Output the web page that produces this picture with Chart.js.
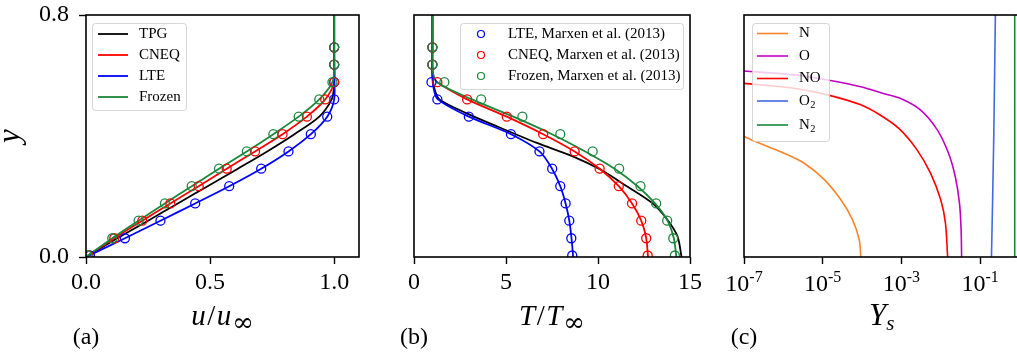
<!DOCTYPE html>
<html>
<head>
<meta charset="utf-8">
<script src="https://cdn.jsdelivr.net/npm/chart.js@4.4.0/dist/chart.umd.min.js"></script>
<style>
  html, body { margin: 0; padding: 0; background: #fff; overflow: hidden; }
  #wrap { position: relative; width: 1017px; height: 354px; overflow: hidden; }
  canvas { position: absolute; top: 0; }
</style>
</head>
<body>
<div id="wrap">
  <canvas id="chartU" width="372" height="354" style="left:0px"></canvas>
  <canvas id="chartT" width="330" height="354" style="left:372px"></canvas>
  <canvas id="chartY" width="318" height="354" style="left:702px"></canvas>
</div>
<script>
'use strict';

// ---- wall-normal stations of the Marxen et al. (2013) points ----
const yRef = [0.005, 0.062, 0.120, 0.177, 0.234, 0.292, 0.349, 0.406, 0.464, 0.521, 0.578, 0.636, 0.693];

// ---- (a) velocity profiles ----
const uRefLTE    = [0.016, 0.157, 0.300, 0.440, 0.577, 0.706, 0.816, 0.906, 0.972, 1.0, 1.0, 1.0, 1.0];
const uRefCNEQ   = [0.010, 0.114, 0.227, 0.340, 0.454, 0.567, 0.681, 0.792, 0.890, 0.964, 1.0, 1.0, 1.0];
const uRefFrozen = [0.006, 0.106, 0.212, 0.318, 0.426, 0.536, 0.648, 0.755, 0.857, 0.940, 0.993, 1.0, 1.0];

const yUTPG    = [0, 0.062, 0.120, 0.177, 0.234, 0.292, 0.349, 0.406, 0.464, 0.521, 0.560, 0.600, 0.700, 0.800];
const uTPG     = [0, 0.126, 0.250, 0.370, 0.490, 0.612, 0.730, 0.840, 0.940, 0.990, 0.999, 1.0, 1.0, 1.0];
const yUCNEQ   = [0, 0.062, 0.120, 0.177, 0.234, 0.292, 0.349, 0.406, 0.464, 0.521, 0.578, 0.650, 0.800];
const uCNEQ    = [0, 0.114, 0.227, 0.340, 0.454, 0.567, 0.681, 0.792, 0.890, 0.964, 1.0, 1.0, 1.0];
const yULTE    = [0, 0.062, 0.120, 0.177, 0.234, 0.292, 0.349, 0.406, 0.464, 0.521, 0.600, 0.700, 0.800];
const uLTE     = [0, 0.157, 0.300, 0.440, 0.577, 0.706, 0.816, 0.906, 0.972, 1.0, 1.0, 1.0, 1.0];
const yUFrozen = [0, 0.062, 0.120, 0.177, 0.234, 0.292, 0.349, 0.406, 0.464, 0.521, 0.578, 0.636, 0.700, 0.800];
const uFrozen  = [0, 0.106, 0.212, 0.318, 0.426, 0.536, 0.648, 0.755, 0.857, 0.940, 0.993, 1.0, 1.0, 1.0];

const uTicks = [0, 0.5, 1.0];
const uTickLabels = ['0.0', '0.5', '1.0'];
const yTicks = [0, 0.8];
const yTickLabels = ['0.0', '0.8'];

// ---- (b) temperature profiles ----
const tRefLTE    = [8.60, 8.55, 8.44, 8.24, 7.95, 7.51, 6.82, 5.27, 2.98, 1.27, 0.95, 1.0, 1.0];
const tRefCNEQ   = [12.70, 12.62, 12.35, 11.85, 11.13, 10.09, 8.73, 7.02, 5.04, 2.89, 1.27, 1.0, 1.0];
const tRefFrozen = [14.18, 14.09, 13.76, 13.16, 12.31, 11.15, 9.71, 7.95, 5.89, 3.65, 1.65, 1.0, 1.0];

const yTTPG    = [0, 0.068, 0.123, 0.178, 0.233, 0.289, 0.332, 0.377, 0.432, 0.475, 0.520, 0.552, 0.600, 0.700, 0.800];
const tTPG     = [14.54, 14.32, 13.77, 12.95, 11.59, 10.13, 8.66, 6.68, 4.50, 2.87, 1.40, 1.13, 1.0, 1.0, 1.0];
const yTCNEQ   = [0, 0.062, 0.120, 0.177, 0.234, 0.292, 0.349, 0.406, 0.464, 0.521, 0.578, 0.610, 0.700, 0.800];
const tCNEQ    = [12.72, 12.62, 12.35, 11.85, 11.13, 10.09, 8.73, 7.02, 5.04, 2.89, 1.27, 1.02, 1.0, 1.0];
const yTLTE    = [0, 0.062, 0.120, 0.177, 0.234, 0.292, 0.349, 0.406, 0.464, 0.521, 0.560, 0.600, 0.700, 0.800];
const tLTE     = [8.65, 8.56, 8.44, 8.24, 7.95, 7.50, 6.82, 5.27, 2.98, 1.30, 1.06, 1.0, 1.0, 1.0];
const yTFrozen = [0, 0.062, 0.120, 0.177, 0.234, 0.292, 0.349, 0.406, 0.464, 0.521, 0.578, 0.610, 0.700, 0.800];
const tFrozen  = [14.26, 14.12, 13.78, 13.10, 12.15, 10.90, 9.30, 7.50, 5.40, 3.15, 1.25, 1.03, 1.0, 1.0];

const tTicks = [0, 5, 10, 15];
const tTickLabels = ['0', '5', '10', '15'];

// ---- (c) species mass fractions ----
const yN  = [0.398, 0.370, 0.343, 0.310, 0.256, 0.189, 0.123, 0.057, 0];
const ysN = [1e-7, 3.2e-7, 1.05e-6, 3.4e-6, 1.1e-5, 2.9e-5, 5.75e-5, 8.5e-5, 9.3e-5];
const yO  = [0.615, 0.602, 0.585, 0.563, 0.542, 0.525, 0.487, 0.421, 0.343, 0.266, 0.178, 0.090, 0];
const ysO = [1e-7, 1.86e-6, 1.32e-5, 9.3e-5, 3.16e-4, 9.3e-4, 3.0e-3, 8.1e-3, 1.58e-2, 2.34e-2, 3.0e-2, 3.3e-2, 3.4e-2];
const yNO  = [0.574, 0.558, 0.536, 0.503, 0.466, 0.421, 0.354, 0.277, 0.189, 0.112, 0];
const ysNO = [1e-7, 1.86e-6, 1.32e-5, 9.3e-5, 3.16e-4, 9.3e-4, 2.5e-3, 5.5e-3, 1.0e-2, 1.32e-2, 1.5e-2];
const yO2  = [0, 0.380, 0.800];
const ysO2 = [0.195, 0.222, 0.245];
const yN2  = [0, 0.800];
const ysN2 = [0.76, 0.76];

const ysTicks = [1e-7, 1e-5, 1e-3, 1e-1];
const ysTickExp = ['-7', '-5', '-3', '-1'];

const FONT = '"Liberation Serif", "Times New Roman", serif';
const GREEN = '#1b873a';
const TICK_PX = 24;

Chart.defaults.font.family = FONT;
Chart.defaults.color = '#000';

const pts = (xs, ys) => xs.map((x, i) => ({ x, y: ys[i] }));

function profileLine(label, xs, ys, color, legend) {
  return {
    label, data: pts(xs, ys), borderColor: color, borderWidth: 1.8,
    pointRadius: 0, pointHoverRadius: 0, tension: 0.3, fill: false,
    inLegend: legend ? 'line' : null
  };
}

function refMarkers(label, xs, ys, color, legend) {
  return {
    label, data: pts(xs, ys), borderColor: color, backgroundColor: 'rgba(0,0,0,0)',
    showLine: false, pointRadius: 4.5, pointHoverRadius: 4.5, pointBorderWidth: 1.3,
    inLegend: legend ? 'marker' : null
  };
}

// first dataset in the list is painted first (underneath)
function stacked(list) {
  list.forEach((d, i) => { d.order = list.length - i; });
  return list;
}

function fixedBox(size, key) {
  return (s) => {
    s[key] = size;
    s.paddingLeft = s.paddingRight = s.paddingTop = s.paddingBottom = 0;
  };
}

const tickGrid = { display: true, drawOnChartArea: false, drawTicks: true, tickLength: 7, tickWidth: 1.4, tickColor: '#000' };

const partFont = p => `${p.it ? 'italic ' : ''}${p.size || 29}px ${p.family || FONT}`;

function drawRich(ctx, parts, cx, baseline) {
  const widths = parts.map(p => { ctx.font = partFont(p); return ctx.measureText(p.t).width + (p.gap || 0); });
  let x = cx - widths.reduce((s, w) => s + w, 0) / 2;
  ctx.textAlign = 'left';
  ctx.textBaseline = 'alphabetic';
  parts.forEach((p, i) => {
    ctx.font = partFont(p);
    ctx.fillText(p.t, x, baseline + (p.dy || 0));
    x += widths[i];
  });
}

// legend text, "O_2" style labels get a lowered subscript
function drawLabel(ctx, label, x, y) {
  const [main, sub] = label.split('_');
  ctx.textAlign = 'left';
  ctx.textBaseline = 'middle';
  ctx.font = `15px ${FONT}`;
  ctx.fillText(main, x, y);
  if (sub) {
    const w = ctx.measureText(main).width;
    ctx.font = `10.5px ${FONT}`;
    ctx.fillText(sub, x + w + 0.5, y + 4);
  }
}

function drawLegend(ctx, chart, L) {
  const [bx, by, bw, bh] = L.box;
  ctx.fillStyle = 'rgba(255,255,255,0.8)';
  ctx.strokeStyle = 'rgba(204,204,204,0.8)';
  ctx.lineWidth = 1;
  ctx.beginPath();
  ctx.roundRect(bx + 0.5, by + 0.5, bw, bh, 3);
  ctx.fill();
  ctx.stroke();
  const items = chart.data.datasets.filter(d => d.inLegend);
  items.forEach((d, i) => {
    const ry = L.rows[i];
    ctx.strokeStyle = d.borderColor;
    ctx.beginPath();
    if (d.inLegend === 'line') {
      ctx.lineWidth = d.borderWidth;
      ctx.moveTo(L.sample[0], ry);
      ctx.lineTo(L.sample[1], ry);
    } else {
      ctx.lineWidth = 1.2;
      ctx.arc(L.marker, ry, 3.5, 0, Math.PI * 2);
    }
    ctx.stroke();
    ctx.fillStyle = '#000';
    drawLabel(ctx, d.label, L.textX, ry);
  });
}

// spines, legend box, axis titles and panel letter
function panelDecor(cfg) {
  return {
    id: 'panelDecor',
    afterDatasetsDraw(chart) {
      const { ctx, chartArea: a } = chart;
      ctx.save();
      ctx.strokeStyle = '#000';
      ctx.lineWidth = 1.6;
      ctx.strokeRect(a.left, a.top, a.right - a.left, a.bottom - a.top);
      ctx.restore();
    },
    afterDraw(chart) {
      const { ctx, chartArea: a } = chart;
      ctx.save();
      drawLegend(ctx, chart, cfg.legend);
      ctx.fillStyle = '#000';
      drawRich(ctx, cfg.title, (a.left + a.right) / 2, 325);
      ctx.font = `24px ${FONT}`;
      ctx.textAlign = 'center';
      ctx.textBaseline = 'alphabetic';
      ctx.fillText(cfg.letter, a.left, 344);
      if (cfg.logTicks) {
        const sx = chart.scales.x;
        cfg.logTicks.values.forEach((v, i) => {
          const px = sx.getPixelForValue(v);
          const exp = cfg.logTicks.exps[i];
          ctx.font = `${TICK_PX}px ${FONT}`;
          const w1 = ctx.measureText('10').width;
          ctx.font = `16px ${FONT}`;
          const w2 = ctx.measureText(exp).width;
          const x0 = px - (w1 + w2) / 2;
          ctx.textAlign = 'left';
          ctx.textBaseline = 'alphabetic';
          ctx.font = `${TICK_PX}px ${FONT}`;
          ctx.fillText('10', x0, 291);
          ctx.font = `16px ${FONT}`;
          ctx.fillText(exp, x0 + w1, 282);
        });
      }
      if (cfg.yTitle) {
        ctx.translate(19, (a.top + a.bottom) / 2);
        ctx.rotate(-Math.PI / 2);
        drawRich(ctx, cfg.yTitle, 0, 0);
      }
      ctx.restore();
    }
  };
}

const INF = { t: '\u221E', size: 26, family: '"DejaVu Serif", serif', dy: 6 };

function baseOptions(padRight, xScale, yScale) {
  return {
    responsive: false,
    animation: false,
    events: [],
    layout: { padding: { left: 0, top: 15, right: padRight, bottom: 0 } },
    plugins: { legend: { display: false }, tooltip: { enabled: false } },
    scales: { x: xScale, y: yScale }
  };
}

const hiddenY = {
  type: 'linear', min: 0, max: 0.8,
  afterFit: fixedBox(42, 'width'),
  ticks: { display: false }, grid: { display: false }, border: { display: false }
};

// (a) u / u_inf
new Chart(document.getElementById('chartU'), {
  type: 'line',
  data: {
    datasets: stacked([
      profileLine('TPG', uTPG, yUTPG, '#000000', true),
      profileLine('CNEQ', uCNEQ, yUCNEQ, '#ff0000', true),
      profileLine('LTE', uLTE, yULTE, '#0000ff', true),
      profileLine('Frozen', uFrozen, yUFrozen, GREEN, true),
      refMarkers('LTE, Marxen et al. (2013)', uRefLTE, yRef, '#0000ff', false),
      refMarkers('CNEQ, Marxen et al. (2013)', uRefCNEQ, yRef, '#ff0000', false),
      refMarkers('Frozen, Marxen et al. (2013)', uRefFrozen, yRef, GREEN, false)
    ])
  },
  options: baseOptions(13, {
    type: 'linear', min: 0, max: 1.1,
    afterBuildTicks: s => { s.ticks = uTicks.map(v => ({ value: v })); },
    afterFit: fixedBox(97, 'height'),
    ticks: { autoSkip: false, maxRotation: 0, padding: 4.5, font: { size: TICK_PX }, callback: (v, i) => uTickLabels[i] },
    grid: tickGrid, border: { display: false }
  }, {
    type: 'linear', min: 0, max: 0.8,
    afterBuildTicks: s => { s.ticks = yTicks.map(v => ({ value: v })); },
    afterFit: fixedBox(86, 'width'),
    ticks: { autoSkip: false, padding: 10, font: { size: TICK_PX }, callback: (v, i) => yTickLabels[i] },
    grid: tickGrid, border: { display: false }
  }),
  plugins: [panelDecor({
    letter: '(a)',
    title: [{ t: 'u', it: true, gap: 1.5 }, { t: '/', gap: 1.5 }, { t: 'u', it: true, gap: 1 }, INF],
    yTitle: [{ t: 'y', it: true, size: 31 }],
    legend: { box: [92, 23, 94, 87], rows: [34, 55, 76, 97], sample: [98, 128], textX: 139 }
  })]
});

// (b) T / T_inf
new Chart(document.getElementById('chartT'), {
  type: 'line',
  data: {
    datasets: stacked([
      profileLine('TPG', tTPG, yTTPG, '#000000', false),
      profileLine('CNEQ', tCNEQ, yTCNEQ, '#ff0000', false),
      profileLine('LTE', tLTE, yTLTE, '#0000ff', false),
      profileLine('Frozen', tFrozen, yTFrozen, GREEN, false),
      refMarkers('LTE, Marxen et al. (2013)', tRefLTE, yRef, '#0000ff', true),
      refMarkers('CNEQ, Marxen et al. (2013)', tRefCNEQ, yRef, '#ff0000', true),
      refMarkers('Frozen, Marxen et al. (2013)', tRefFrozen, yRef, GREEN, true)
    ])
  },
  options: baseOptions(12, {
    type: 'linear', min: 0, max: 15,
    afterBuildTicks: s => { s.ticks = tTicks.map(v => ({ value: v })); },
    afterFit: fixedBox(97, 'height'),
    ticks: { autoSkip: false, maxRotation: 0, padding: 4.5, font: { size: TICK_PX }, callback: (v, i) => tTickLabels[i] },
    grid: tickGrid, border: { display: false }
  }, hiddenY),
  plugins: [panelDecor({
    letter: '(b)',
    title: [{ t: 'T', it: true, gap: 1.5 }, { t: '/', gap: 1.5 }, { t: 'T', it: true, gap: 1 }, INF],
    legend: { box: [88, 23, 223, 66], rows: [34, 55, 76], marker: 109, textX: 136 }
  })]
});

// (c) species mass fractions
new Chart(document.getElementById('chartY'), {
  type: 'line',
  data: {
    datasets: stacked([
      profileLine('N', ysN, yN, '#f7852e', true),
      profileLine('O', ysO, yO, '#c000c0', true),
      profileLine('NO', ysNO, yNO, '#ff0000', true),
      profileLine('O_2', ysO2, yO2, '#4169e1', true),
      profileLine('N_2', ysN2, yN2, GREEN, true)
    ].map(d => Object.assign(d, { borderWidth: 1.6 })))
  },
  options: baseOptions(0.6, {
    type: 'logarithmic', min: 1e-7, max: 1,
    afterBuildTicks: s => { s.ticks = ysTicks.map(v => ({ value: v, major: true })); },
    afterFit: fixedBox(97, 'height'),
    ticks: { display: false },
    grid: tickGrid, border: { display: false }
  }, hiddenY),
  plugins: [panelDecor({
    letter: '(c)',
    title: [{ t: 'Y', it: true, size: 31 }, { t: 's', it: true, size: 21, dy: 5 }],
    logTicks: { values: ysTicks, exps: ysTickExp },
    legend: { box: [50, 23, 77, 118], rows: [33.5, 56, 78.5, 101, 125], sample: [55, 86], textX: 97 }
  })]
});
</script>
</body>
</html>
